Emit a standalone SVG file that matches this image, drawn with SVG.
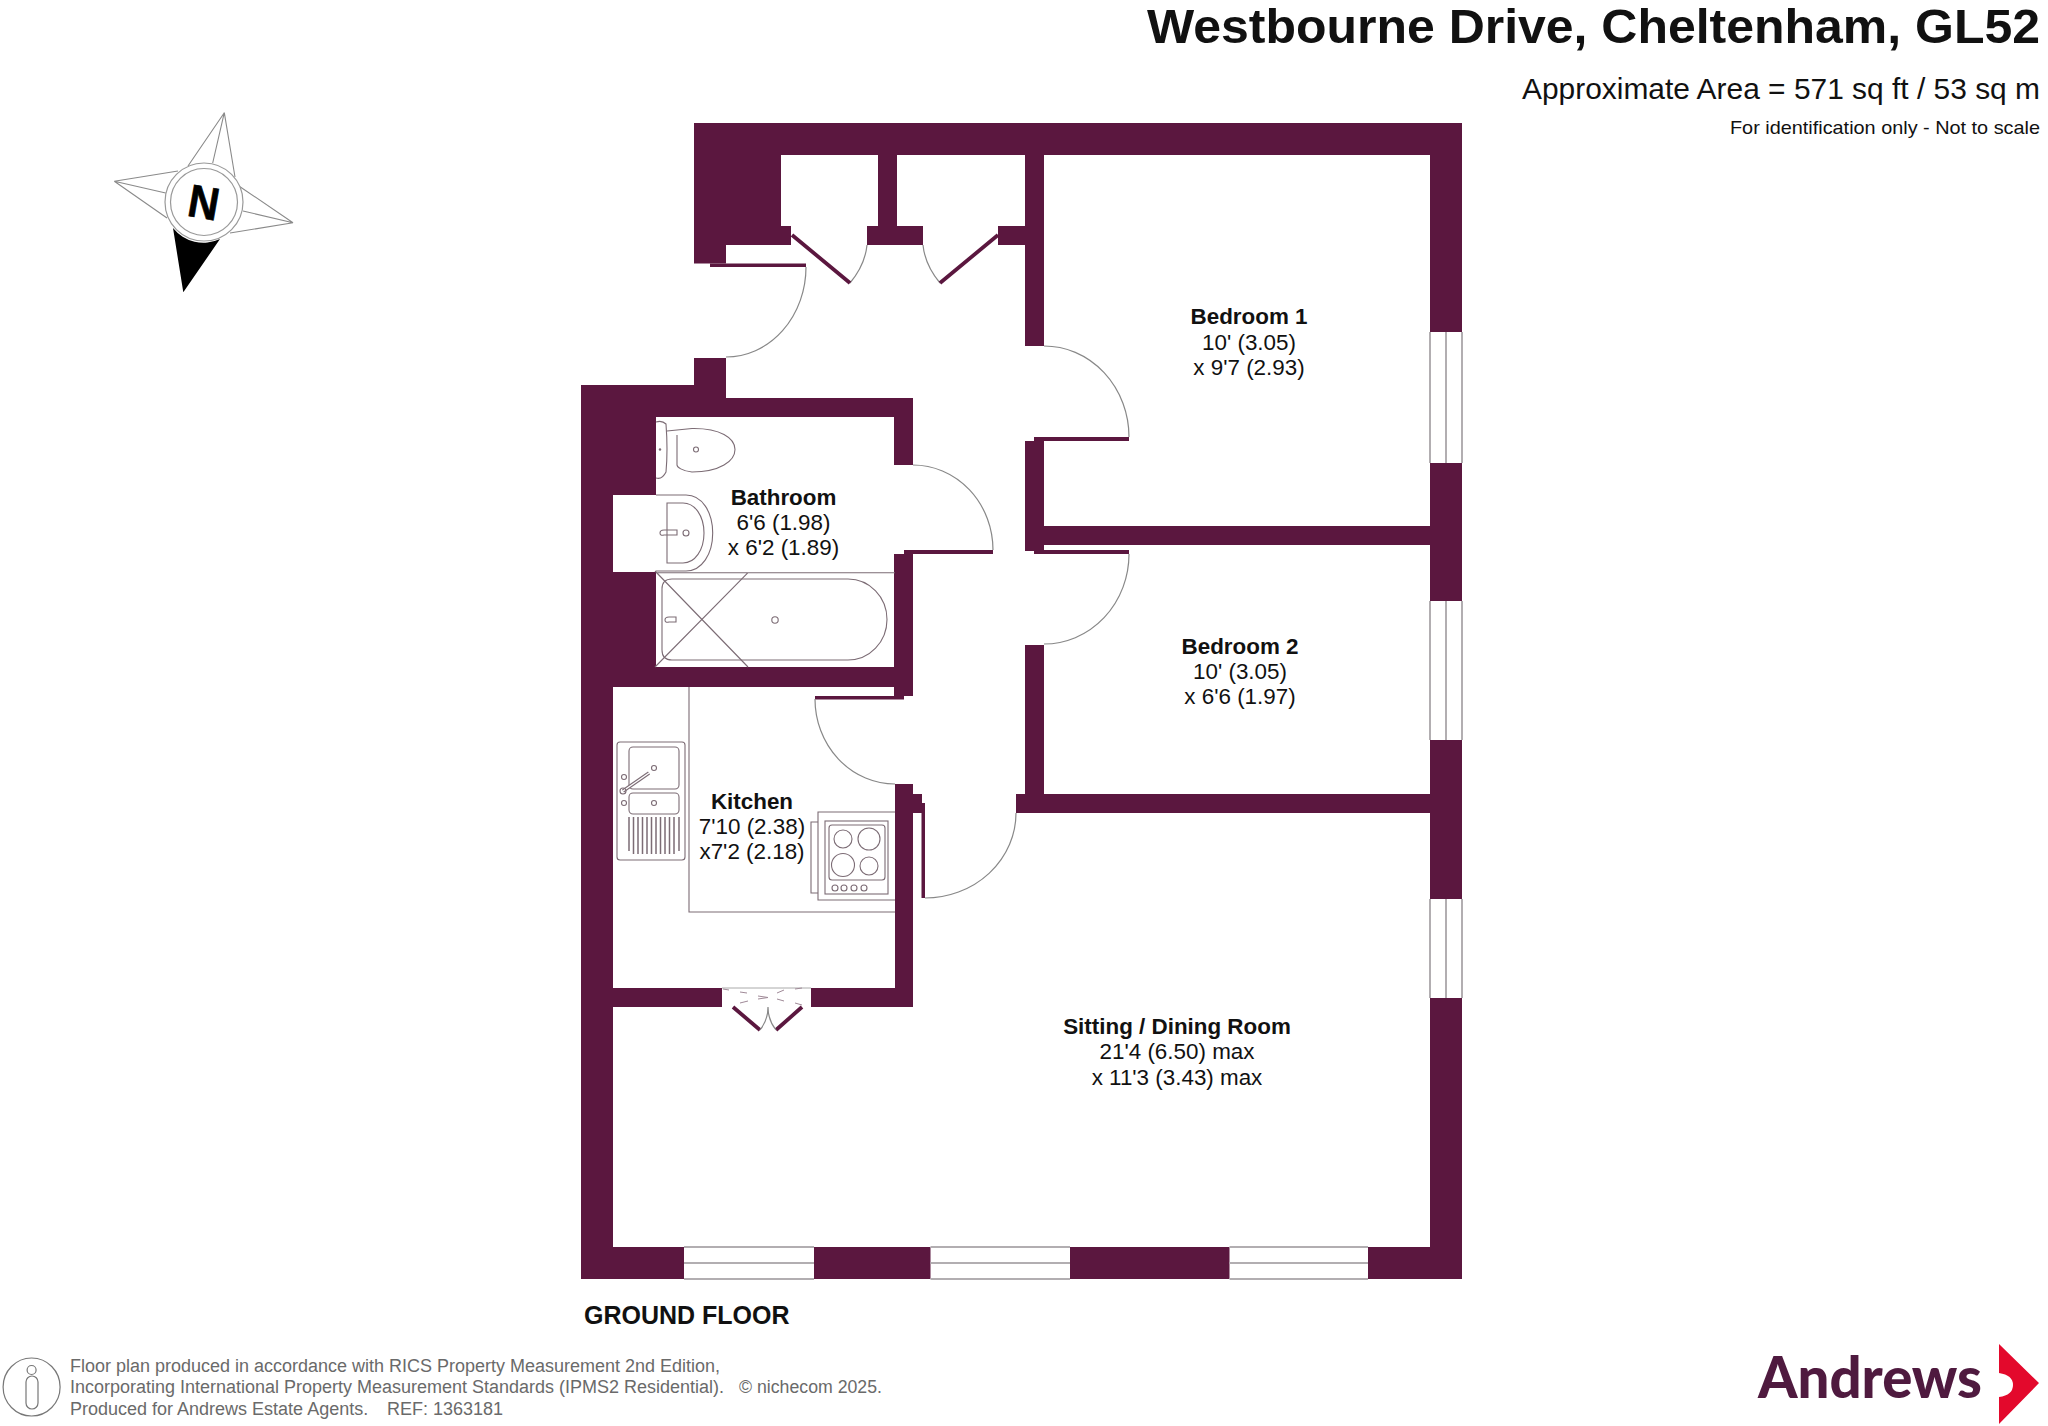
<svg xmlns="http://www.w3.org/2000/svg" width="2048" height="1426" viewBox="0 0 2048 1426">
<style>
text{font-family:"Liberation Sans",Arial,sans-serif;fill:#111}
.b{font-weight:700}
.rm{font-size:22.4px;text-anchor:middle}
.w{fill:#5b173f}
.a{fill:none;stroke:#888;stroke-width:1.2}
.f{fill:none;stroke:#7c6c75;stroke-width:1.1}
.l{fill:none;stroke:#5b173f;stroke-width:3.8}
.g{stroke:#b2aeb1;stroke-width:2;fill:none}
.ft{font-size:18px;fill:#6a6a6a}
.s{fill:none;stroke:#8a8a8a;stroke-width:1.1}
</style>
<rect width="2048" height="1426" fill="#fff"/>
<g id="title">
<text class="b" x="1147" y="43" font-size="48.500" textLength="893" lengthAdjust="spacingAndGlyphs">Westbourne Drive, Cheltenham, GL52</text>
<text x="1522" y="99" font-size="29" textLength="518" lengthAdjust="spacingAndGlyphs">Approximate Area = 571 sq ft / 53 sq m</text>
<text x="1730" y="134" font-size="19" textLength="310" lengthAdjust="spacingAndGlyphs">For identification only - Not to scale</text>
</g>
<g id="compass">
<path class="s" d="M188 166L224.3 112.7L212.7 163M224.3 112.7L235 177M240 186.7L293 222.7L243 211M293 222.7L230 233M178 171L114.3 181.3L165.7 193M114.3 181.3L167 218"/>
<path d="M173 228L183.3 292.3L220 239A39 39 0 0 1 173 228Z" fill="#000"/>
<circle cx="204" cy="202" r="39" fill="none" stroke="#999" stroke-width="1.2"/>
<circle cx="204" cy="202" r="33.5" fill="none" stroke="#999" stroke-width="1.2"/>
<text class="b" transform="translate(204 202) rotate(10) scale(.92 1)" y="16.5" text-anchor="middle" font-size="46" style="fill:#000;stroke:#000;stroke-width:.7">N</text>
</g>
<g id="walls" class="w">
<rect x="694" y="123" width="768" height="32"/>
<rect x="694" y="155" width="87" height="71"/>
<rect x="694" y="226" width="97" height="19"/>
<rect x="694" y="245" width="32" height="18.5"/>
<rect x="710" y="263.5" width="96" height="3.5"/>
<rect x="694" y="358" width="32" height="40"/>
<rect x="581" y="385" width="113" height="32"/>
<rect x="656" y="398" width="257" height="19"/>
<rect x="581" y="417" width="75" height="78"/>
<rect x="581" y="495" width="32" height="77"/>
<rect x="581" y="572" width="75" height="115"/>
<rect x="581" y="667" width="332" height="20"/>
<rect x="581" y="687" width="32" height="592"/>
<rect x="581" y="1247" width="103" height="32"/>
<rect x="814" y="1247" width="116.500" height="32"/>
<rect x="1070" y="1247" width="159.500" height="32"/>
<rect x="1368" y="1247" width="94" height="32"/>
<rect x="1430" y="155" width="32" height="177"/>
<rect x="1430" y="463" width="32" height="138"/>
<rect x="1430" y="740" width="32" height="159"/>
<rect x="1430" y="998" width="32" height="249"/>
<rect x="894" y="417" width="19" height="48"/>
<rect x="894" y="554" width="19" height="142"/>
<rect x="904" y="550" width="89" height="4"/>
<rect x="815" y="696" width="89" height="3.500"/>
<rect x="895" y="784" width="18" height="223"/>
<rect x="913" y="794" width="9" height="19"/>
<rect x="922" y="803" width="3" height="10"/>
<rect x="921.500" y="813" width="3.500" height="85"/>
<rect x="1016" y="794" width="414" height="19"/>
<rect x="1025" y="645" width="19" height="149"/>
<rect x="1025" y="155" width="19" height="191"/>
<rect x="1025" y="441" width="19" height="110"/>
<rect x="1034" y="437" width="95" height="4"/>
<rect x="1034" y="550" width="95" height="4"/>
<rect x="1044" y="526" width="386" height="19"/>
<rect x="613" y="988" width="109" height="19"/>
<rect x="811" y="988" width="84" height="19"/>
<rect x="878" y="155" width="19" height="71"/>
<rect x="867" y="226" width="56" height="19"/>
<rect x="998" y="226" width="27" height="19"/>
</g>
<g id="windows" class="g">
<path d="M1430 332V463M1446 332V463M1462 332V463"/>
<path d="M1430 601V740M1446 601V740M1462 601V740"/>
<path d="M1430 899V998M1446 899V998M1462 899V998"/>
<path d="M684 1247H814M684 1263H814M684 1279H814"/>
<path d="M930.500 1247H1070M930.500 1263H1070M930.500 1279H1070"/>
<path d="M1229.500 1247H1368M1229.500 1263H1368M1229.500 1279H1368"/>
</g>
<g id="doors">
<path class="a" d="M806 267A80 90 0 0 1 726 357"/>
<path class="a" d="M913 465A80 85 0 0 1 993 550"/>
<path class="a" d="M1044 346A85 91 0 0 1 1129 437"/>
<path class="a" d="M1129 554A85 90 0 0 1 1044 644"/>
<path class="a" d="M815 699A80 85 0 0 0 895 784"/>
<path class="a" d="M925 898A91 85 0 0 0 1016 813"/>
<path class="a" d="M850 283Q865 265 867 245M940 283Q925 265 923 245"/>
<path class="l" d="M792 235L850 283M998 235L940 283"/>
<path class="l" d="M733 1007L760 1030M802 1007L776 1030"/>
<path class="a" d="M760 1030Q768 1020 768 1007Q768 1020 776 1030"/>
</g>
<g id="cupboard-window">
<path d="M722 988H811" stroke="#aaa" fill="none"/>
<path d="M723 989L729 990M740 992L747 993M758 996L768 997.500L758 999M777 993L784 990M777 999L784 1001M795 989L802 988M795 1003L802 1005M740 1003L748 1001" fill="none" stroke="#a08a98" stroke-width="1"/>
</g>
<g id="bathroom">
<path class="f" d="M656 572.700H895M655 571L748 667M655 667L748 572.700"/>
<path class="f" d="M672 579H848A39 40.500 0 0 1 848 660H672Q662 660 662 650V589Q662 579 672 579Z"/>
<path class="f" d="M665 620Q665 617 669 617H676V622H669Q665 623 665 620Z"/>
<circle class="f" cx="775" cy="620" r="3.200"/>
<path class="f" d="M656 495H686C702 495 712.700 512 712.700 533S702 571 686 571H656"/>
<path class="f" d="M667 503H683C695 503 704 516 704 533S695 563 683 563H667Z"/>
<path class="f" d="M660 533Q660 530 664 530H677V535H664Q660 536 660 533Z"/>
<circle class="f" cx="686" cy="533" r="3"/>
<path class="f" d="M656 422Q662 420 666 424Q668 450 666 472Q662 480 656 478"/>
<path class="f" d="M667 431L692 428.500C720 428 735 438 735 449.500S720 472 692 472C682 471 677 467 677 465V435"/>
<circle cx="660" cy="449.500" r="1.200" fill="#7c6c75"/>
<circle class="f" cx="696" cy="449.500" r="2.500"/>
</g>
<g id="kitchen">
<path class="f" d="M689 687V912H895"/>
<rect class="f" x="617" y="742" width="68" height="118" rx="3"/>
<rect class="f" x="629" y="747" width="50" height="42" rx="4"/>
<rect class="f" x="629" y="793" width="50" height="21" rx="4"/>
<circle class="f" cx="654" cy="768" r="2.500"/>
<circle class="f" cx="654" cy="803" r="2.500"/>
<path d="M623 791L649 773" fill="none" stroke="#7c6c75" stroke-width="3.500"/>
<path d="M623 791L649 773" fill="none" stroke="#fff" stroke-width="1.300"/>
<circle class="f" cx="623" cy="791" r="3"/>
<circle class="f" cx="624" cy="777" r="2.500"/>
<circle class="f" cx="624" cy="803" r="2.500"/>
<path d="M629 817V851M633.500 817V854M638 817V854M642.500 817V854M647 817V854M651.500 817V854M656 817V854M660.500 817V854M665 817V854M669.500 817V854M674 817V854M679 817V851" fill="none" stroke="#7c6c75" stroke-width="1.500"/>
<path class="f" d="M895 812H818V900H895"/>
<path class="f" d="M818 822H811V893H818"/>
<rect class="f" x="825" y="821" width="63" height="73"/>
<rect class="f" x="829" y="825" width="56" height="55" rx="3"/>
<circle class="f" cx="843" cy="839" r="9"/>
<circle class="f" cx="869" cy="839" r="11"/>
<circle class="f" cx="843" cy="865" r="11.500"/>
<circle class="f" cx="869" cy="866" r="9"/>
<circle class="f" cx="835" cy="888" r="3"/>
<circle class="f" cx="844" cy="888" r="3"/>
<circle class="f" cx="854" cy="888" r="3"/>
<circle class="f" cx="864" cy="888" r="3"/>
</g>
<g id="labels">
<g id="room-bathroom"><text class="rm b" x="783.500" y="505">Bathroom</text><text class="rm" x="783.500" y="530">6'6 (1.98)</text><text class="rm" x="783.500" y="555">x 6'2 (1.89)</text></g>
<g id="room-bedroom1"><text class="rm b" x="1249" y="324">Bedroom 1</text><text class="rm" x="1249" y="350">10' (3.05)</text><text class="rm" x="1249" y="375">x 9'7 (2.93)</text></g>
<g id="room-bedroom2"><text class="rm b" x="1240" y="654">Bedroom 2</text><text class="rm" x="1240" y="679">10' (3.05)</text><text class="rm" x="1240" y="704">x 6'6 (1.97)</text></g>
<g id="room-kitchen"><text class="rm b" x="752" y="809">Kitchen</text><text class="rm" x="752" y="834">7'10 (2.38)</text><text class="rm" x="752" y="859">x7'2 (2.18)</text></g>
<g id="room-sitting"><text class="rm b" x="1177" y="1034">Sitting / Dining Room</text><text class="rm" x="1177" y="1059">21'4 (6.50) max</text><text class="rm" x="1177" y="1085">x 11'3 (3.43) max</text></g>
<text class="b" x="584" y="1324" font-size="25">GROUND FLOOR</text>
</g>
<g id="footer">
<ellipse cx="31.600" cy="1387" rx="28.500" ry="29" fill="none" stroke="#777" stroke-width="1.200"/>
<circle cx="31.600" cy="1370" r="4.500" fill="none" stroke="#777" stroke-width="1.200"/>
<rect x="26" y="1376" width="12" height="33" rx="6" fill="none" stroke="#777" stroke-width="1.200"/>
<text class="ft" x="70" y="1372" textLength="650" lengthAdjust="spacingAndGlyphs">Floor plan produced in accordance with RICS Property Measurement 2nd Edition,</text>
<text class="ft" x="70" y="1393" textLength="654" lengthAdjust="spacingAndGlyphs">Incorporating International Property Measurement Standards (IPMS2 Residential).</text>
<text class="ft" x="739" y="1393" textLength="143" lengthAdjust="spacingAndGlyphs">© nichecom 2025.</text>
<text class="ft" x="70" y="1415">Produced for Andrews Estate Agents.</text>
<text class="ft" x="387" y="1415">REF: 1363181</text>
</g>
<g id="logo">
<text x="1758" y="1398" style="font-family:Lato,'Liberation Sans',sans-serif;fill:#4f1a3f" font-weight="900" font-size="57" textLength="224" lengthAdjust="spacingAndGlyphs">Andrews</text>
<path d="M1999 1344L2039 1383L1999 1424V1397Q2013 1395 2013 1385Q2013 1375 1999 1373Z" fill="#e3092c"/>
</g>
</svg>
